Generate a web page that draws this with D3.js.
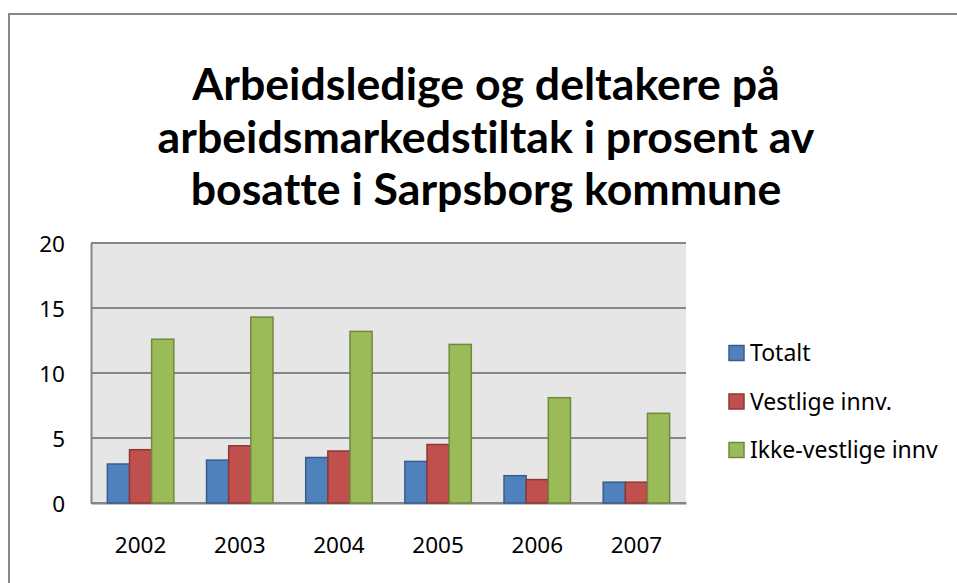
<!DOCTYPE html>
<html>
<head>
<meta charset="utf-8">
<script src="https://cdn.jsdelivr.net/npm/d3@7"></script>
<style>
  body { margin: 0; background: #fff; overflow: hidden; }
  svg { display: block; }
  text { font-family: "Noto Sans", "Open Sans", sans-serif; fill: #000; }
</style>
</head>
<body>
<div id="chart"></div>
<script>
const years = ["2002", "2003", "2004", "2005", "2006", "2007"];
const seriesNames = ["Totalt", "Vestlige innv.", "Ikke-vestlige innv"];
const totalt = [3.0, 3.3, 3.5, 3.2, 2.1, 1.6];
const vestlige = [4.1, 4.4, 4.0, 4.5, 1.8, 1.6];
const ikkeVestlige = [12.6, 14.3, 13.2, 12.2, 8.1, 6.9];
const yTicks = [0, 5, 10, 15, 20];
const titleLines = [
  "Arbeidsledige og deltakere på",
  "arbeidsmarkedstiltak i prosent av",
  "bosatte i Sarpsborg kommune"
];

const fills = ["#4f81bd", "#c0504d", "#9bbb59"];
const strokes = ["#385d8a", "#8c3836", "#71893f"];

const width = 957, height = 583;
const plot = { left: 91, right: 686, top: 243, bottom: 503 };

const svg = d3.select("#chart").append("svg")
  .attr("width", width)
  .attr("height", height);

// outer chart frame: only top and left edges are in view
svg.append("path")
  .attr("d", `M9,${height} V14 H${width}`)
  .attr("fill", "none")
  .attr("stroke", "#868686")
  .attr("stroke-width", 2);

// title
const title = svg.append("g").attr("font-weight", "bold");
const titleText = title.selectAll("text").data(titleLines).join("text")
  .attr("x", 486)
  .attr("y", (d, i) => 100 + i * 52.5)
  .attr("text-anchor", "middle")
  .style("font-family", "Lato, 'Noto Sans', sans-serif")
  .style("font-variant-ligatures", "none")
  .style("font-feature-settings", "'liga' 0, 'dlig' 0")
  .style("font-size", "36px")
  .text(d => d);
// fit the widest line to the reference width
const w2 = titleText.nodes()[1].getComputedTextLength();
titleText.style("font-size", (36 * 657 / w2) + "px");

// scales
const x0 = d3.scaleBand()
  .domain(years)
  .range([plot.left, plot.right])
  .paddingInner(0.33)
  .paddingOuter(0.165);

const x1 = d3.scaleBand()
  .domain(d3.range(3))
  .range([0, x0.bandwidth()]);

const y = d3.scaleLinear()
  .domain([0, 20])
  .range([plot.bottom, plot.top]);

// plot background
svg.append("rect")
  .attr("x", plot.left).attr("y", plot.top)
  .attr("width", plot.right - plot.left)
  .attr("height", plot.bottom - plot.top)
  .attr("fill", "#e6e6e6");

// gridlines
svg.append("g")
  .selectAll("line").data(yTicks).join("line")
  .attr("x1", plot.left).attr("x2", plot.right)
  .attr("y1", d => y(d)).attr("y2", d => y(d))
  .attr("stroke", "#868686")
  .attr("stroke-width", 2);

// y axis
const yAxis = svg.append("g")
  .attr("transform", `translate(${plot.left},0)`)
  .call(d3.axisLeft(y).tickValues(yTicks).tickSize(0).tickPadding(26));
yAxis.select(".domain").attr("stroke", "#868686").attr("stroke-width", 2);
yAxis.selectAll("text")
  .style("font-size", "22.5px")
  .attr("dy", "0.36em");

// x axis
const xAxis = svg.append("g")
  .attr("transform", `translate(0,${plot.bottom})`)
  .call(d3.axisBottom(x0).tickSize(0).tickPadding(34));
xAxis.select(".domain").attr("stroke", "#868686").attr("stroke-width", 2);
xAxis.selectAll("text").style("font-size", "22.5px");

// bars
const seriesData = [totalt, vestlige, ikkeVestlige];
const groups = svg.append("g").selectAll("g").data(years).join("g")
  .attr("transform", d => `translate(${x0(d)},0)`);

groups.selectAll("rect")
  .data((d, i) => seriesData.map((s, k) => ({ k: k, v: s[i] })))
  .join("rect")
  .attr("x", d => x1(d.k))
  .attr("y", d => y(d.v))
  .attr("width", x1.bandwidth())
  .attr("height", d => y(0) - y(d.v))
  .attr("fill", d => fills[d.k])
  .attr("stroke", d => strokes[d.k])
  .attr("stroke-width", 1.5);

// legend
const legend = svg.append("g").selectAll("g").data(seriesNames).join("g")
  .attr("transform", (d, i) => `translate(729,${353 + i * 48.5})`);

legend.append("rect")
  .attr("x", 0).attr("y", -7.5)
  .attr("width", 15).attr("height", 15)
  .attr("fill", (d, i) => fills[i])
  .attr("stroke", (d, i) => strokes[i])
  .attr("stroke-width", 1.5);

legend.append("text")
  .attr("x", 21)
  .attr("y", 8.3)
  .style("font-size", "23px")
  .text(d => d);
</script>
</body>
</html>
